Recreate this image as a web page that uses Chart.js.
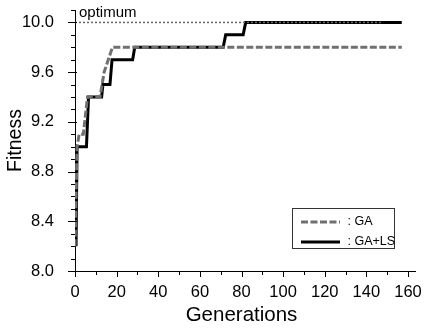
<!DOCTYPE html>
<html>
<head>
<meta charset="utf-8">
<script src="https://cdn.jsdelivr.net/npm/chart.js@4.4.1/dist/chart.umd.min.js"></script>
<style>
  html, body { margin: 0; padding: 0; background: #fff; }
  canvas { display: block; }
</style>
</head>
<body>
<canvas id="fitnessChart" width="424" height="328"></canvas>
<script>
var gaGenerations = [0, 1, 2, 4, 6, 12, 14, 18, 157];
var gaFitness     = [8.2, 9.0, 9.1, 9.1, 9.4, 9.4, 9.6, 9.8, 9.8];

var lsGenerations = [0.5, 1, 5.5, 6.5, 12.8, 13.4, 16.8, 17.8, 27.7, 28.7, 71.2, 72.4, 80.8, 82, 157];
var lsFitness     = [8.2, 9.0, 9.0, 9.4, 9.4, 9.5, 9.5, 9.7, 9.7, 9.8, 9.8, 9.9, 9.9, 10.0, 10.0];

var optimumGenerations = [0, 147];
var optimumFitness     = [10.0, 10.0];

var seriesLabels = ["GA", "GA+LS", "optimum"];
var xTickLabels = [0, 20, 40, 60, 80, 100, 120, 140, 160];
var yTickLabels = ["8.0", "8.4", "8.8", "9.2", "9.6", "10.0"];

var FONT = "'Liberation Sans', Arial, sans-serif";

function points(xs, ys) {
  return xs.map(function(x, i) { return { x: x, y: ys[i] }; });
}

// tick marks, the optimum note and the boxed legend
var decorations = {
  id: "decorations",
  afterDraw: function(chart) {
    var ctx = chart.ctx;
    var area = chart.chartArea;
    var xs = chart.scales.x, ys = chart.scales.y;
    ctx.save();
    ctx.strokeStyle = "#000";
    ctx.lineWidth = 1;
    ctx.beginPath();
    ctx.moveTo(area.right, area.bottom + 0.5);
    ctx.lineTo(area.right + 8, area.bottom + 0.5);
    ys.ticks.forEach(function(t) {
      var py = Math.round(ys.getPixelForValue(t.value)) + 0.5;
      var major = t.label !== "";
      ctx.moveTo(area.left - (major ? 7 : 4), py);
      ctx.lineTo(area.left + (major ? 2 : 0), py);
    });
    xs.ticks.forEach(function(t) {
      var px = Math.round(xs.getPixelForValue(t.value)) + 0.5;
      var major = t.label !== "";
      ctx.moveTo(px, area.bottom);
      ctx.lineTo(px, area.bottom + (major ? 6 : 4));
    });
    ctx.stroke();

    ctx.fillStyle = "#000";
    ctx.font = "15px " + FONT;
    ctx.textBaseline = "alphabetic";
    ctx.textAlign = "left";
    ctx.fillText(seriesLabels[2], area.left + 4, 17);

    // legend box
    var bx = Math.round(area.right) - 115.5, by = Math.round(area.bottom) - 62.5, bw = 102, bh = 40;
    ctx.strokeStyle = "#333";
    ctx.strokeRect(bx, by, bw, bh);
    var sets = chart.data.datasets;
    [1, 2].forEach(function(di, row) {
      var ds = sets[di];
      var ly = by + 13.5 + row * 20;
      ctx.beginPath();
      ctx.strokeStyle = ds.borderColor;
      ctx.lineWidth = ds.borderWidth;
      ctx.setLineDash(ds.borderDash || []);
      ctx.moveTo(bx + 8.5, ly);
      ctx.lineTo(bx + 47.5, ly);
      ctx.stroke();
      ctx.setLineDash([]);
      ctx.fillStyle = "#000";
      ctx.font = "12.5px " + FONT;
      ctx.textBaseline = "middle";
      ctx.fillText(": " + ds.label, bx + 55, ly);
    });
    ctx.restore();
  }
};

function renderChart() {
  var ctx = document.getElementById("fitnessChart").getContext("2d");
  new Chart(ctx, {
    type: "line",
    data: {
      datasets: [
        {
          label: seriesLabels[2],
          data: points(optimumGenerations, optimumFitness),
          borderColor: "#666",
          borderWidth: 1.5,
          borderDash: [2, 2],
          order: 0,
        },
        {
          label: seriesLabels[0],
          data: points(gaGenerations, gaFitness),
          borderColor: "#707070",
          borderWidth: 3,
          borderDash: [7, 2.5],
          order: 1,
        },
        {
          label: seriesLabels[1],
          data: points(lsGenerations, lsFitness),
          borderColor: "#000",
          borderWidth: 3,
          order: 2,
        }
      ]
    },
    options: {
      responsive: false,
      animation: false,
      devicePixelRatio: 1,
      layout: { padding: { top: 10, right: 16, left: 0, bottom: 0 } },
      elements: {
        point: { radius: 0 },
        line: { tension: 0, fill: false, borderCapStyle: "butt", borderJoinStyle: "miter" }
      },
      plugins: {
        legend: { display: false },
        tooltip: { enabled: false }
      },
      scales: {
        x: {
          type: "linear",
          min: 0,
          max: 160,
          afterFit: function(scale) {
            scale.height = 57;
            scale.paddingLeft = 0;
            scale.paddingRight = 0;
          },
          ticks: {
            stepSize: 10,
            autoSkip: false,
            maxRotation: 0,
            padding: 4,
            color: "#000",
            font: { family: FONT, size: 16.5 },
            callback: function(v) { return xTickLabels.indexOf(v) >= 0 ? String(v) : ""; }
          },
          grid: { display: false },
          border: { display: true, color: "#000", width: 1 },
          title: {
            display: true,
            text: "Generations",
            color: "#000",
            font: { family: FONT, size: 20.5 },
            padding: { top: 0, bottom: 0 }
          }
        },
        y: {
          min: 8.0,
          max: 10.1,
          afterFit: function(scale) {
            scale.width = 75;
            scale.paddingTop = 0;
            scale.paddingBottom = 0;
          },
          ticks: {
            stepSize: 0.1,
            autoSkip: false,
            padding: 13,
            color: "#000",
            font: { family: FONT, size: 16.5 },
            callback: function(v) {
              var s = v.toFixed(1);
              return yTickLabels.indexOf(s) >= 0 ? s : "";
            }
          },
          grid: { display: false },
          border: { display: true, color: "#000", width: 1 },
          title: {
            display: true,
            text: "Fitness",
            color: "#000",
            font: { family: FONT, size: 19.5 },
            padding: { top: 4, bottom: 0 }
          }
        }
      }
    },
    plugins: [decorations]
  });
}

document.addEventListener("DOMContentLoaded", renderChart);
</script>
</body>
</html>
